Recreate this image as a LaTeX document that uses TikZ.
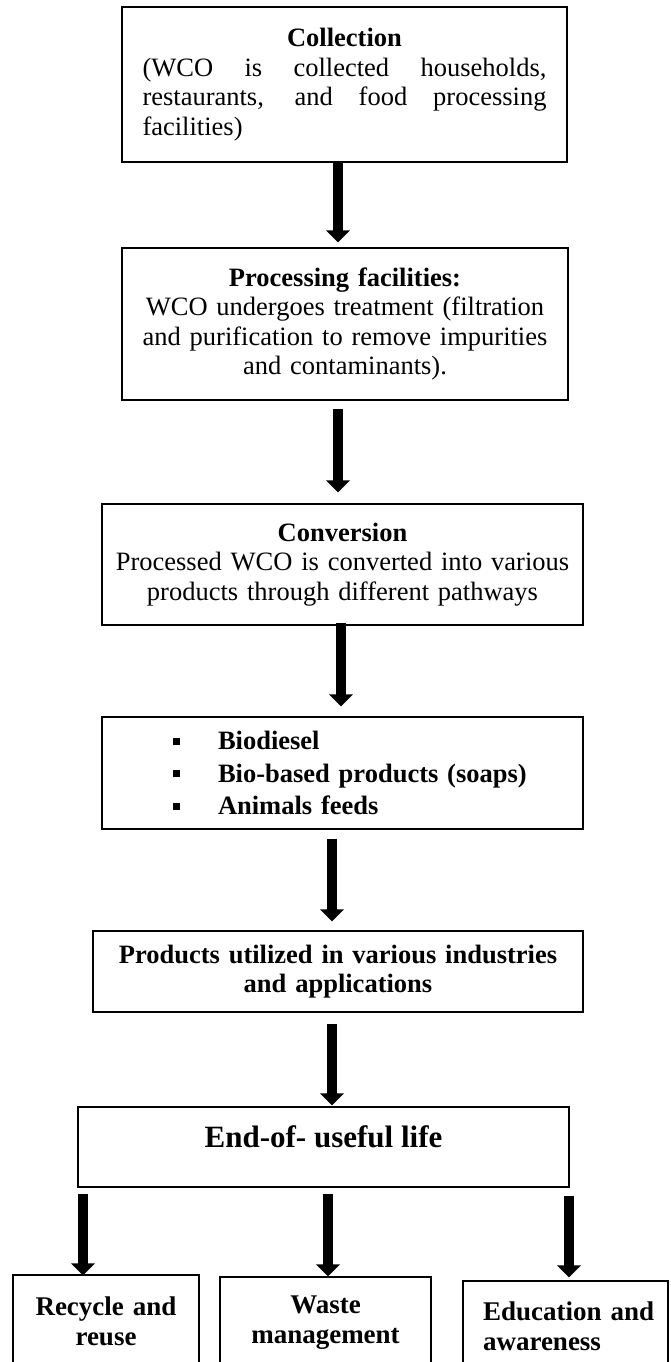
\documentclass[tikz,border=0pt]{standalone}
\usepackage{fontspec}
\setmainfont{Liberation Serif}[Ligatures=NoCommon]
\usetikzlibrary{arrows.meta,calc}
\tikzset{
  box/.style={draw=black, line width=1.2pt, inner sep=0pt, align=center,
    font=\fontsize{26.5}{29.5}\selectfont},
  bottombox/.style={draw=black, line width=1.2pt, inner sep=0pt, align=center,
    font=\fontsize{27}{30}\selectfont\bfseries},
  bigarrow/.style={line width=10pt, -{Triangle[width=23pt,length=12pt]}},
}
\begin{document}
\begin{tikzpicture}[x=1pt,y=-1pt]
\useasboundingbox (0,0) rectangle (671,1362);
\clip (0,0) rectangle (671,1362);

\node[box, minimum width=445pt, minimum height=155pt, text width=404pt, align=justify] (collection) at (344.5,84.5)
  {\makebox[\linewidth]{\textbf{Collection}}\par
   (WCO is collected households,\linebreak
   restaurants, and food processing\linebreak
   facilities)};

\node[box, minimum width=446pt, minimum height=152pt, text width=430pt] (processing) at (345,324)
  {\textbf{Processing facilities:}\\
   WCO undergoes treatment (filtration\\
   and purification to remove impurities\\
   and contaminants).};

\node[box, minimum width=481pt, minimum height=121pt, text width=470pt] (conversion) at (342.5,564.5)
  {\textbf{Conversion}\\
   Processed WCO is converted into various\\
   products through different pathways};

\node[box, minimum width=481pt, minimum height=112pt, text width=481pt, align=left,
      font=\fontsize{26.5}{29.5}\selectfont\bfseries] (bullets) at (342.5,773)
  {\hspace*{71pt}\rule[5pt]{7pt}{7pt}\hspace*{38pt}Biodiesel\\[3pt]
   \hspace*{71pt}\rule[5pt]{7pt}{7pt}\hspace*{38pt}Bio-based products (soaps)\\[3pt]
   \hspace*{71pt}\rule[5pt]{7pt}{7pt}\hspace*{38pt}Animals feeds};

\node[box, minimum width=490pt, minimum height=81pt, text width=480pt,
      font=\fontsize{26.5}{29.5}\selectfont\bfseries] (products) at (338,971.5)
  {Products utilized in various industries\\
   and applications};

\node[box, minimum width=491pt, minimum height=80pt, text height=20pt, text depth=20pt,
      font=\fontsize{31}{34}\selectfont\bfseries] (endlife) at (323.5,1147)
  {End-of- useful life};

\node[bottombox, minimum width=186pt, minimum height=92pt, text width=180pt] (recycle) at (106,1321)
  {Recycle and\\reuse};

\node[bottombox, minimum width=211pt, minimum height=91pt, text width=200pt] (waste) at (325.5,1322.5)
  {Waste\\management};

\node[bottombox, minimum width=205pt, minimum height=90pt, text width=185pt, inner xsep=10pt, align=left] (education) at (565.5,1326)
  {\hspace*{10pt}Education and\\\hspace*{10pt}awareness};

\draw[bigarrow] ([xshift=-6.5pt]collection.south) -- ([xshift=-7pt,yshift=5pt]processing.north);
\draw[bigarrow] ([xshift=-7pt,yshift=-8pt]processing.south) -- ([xshift=-4.5pt,yshift=11pt]conversion.north);
\draw[bigarrow] ([xshift=-1.5pt,yshift=3pt]conversion.south) -- ([xshift=-1.5pt,yshift=10pt]bullets.north);
\draw[bigarrow] ([xshift=-10.5pt,yshift=-9pt]bullets.south) -- ([xshift=-6pt,yshift=9pt]products.north);
\draw[bigarrow] ([xshift=-6pt,yshift=-11pt]products.south) -- ([xshift=8.5pt,yshift=1pt]endlife.north);
\draw[bigarrow] ($(recycle.north |- endlife.south)+(-23,6)$) -- ([xshift=-23pt,yshift=-1pt]recycle.north);
\draw[bigarrow] ($(waste.north |- endlife.south)+(2.5,6)$) -- ([xshift=2.5pt]waste.north);
\draw[bigarrow] ($(education.north |- endlife.south)+(3.5,8)$) -- ([xshift=3.5pt,yshift=3pt]education.north);
\end{tikzpicture}
\end{document}
